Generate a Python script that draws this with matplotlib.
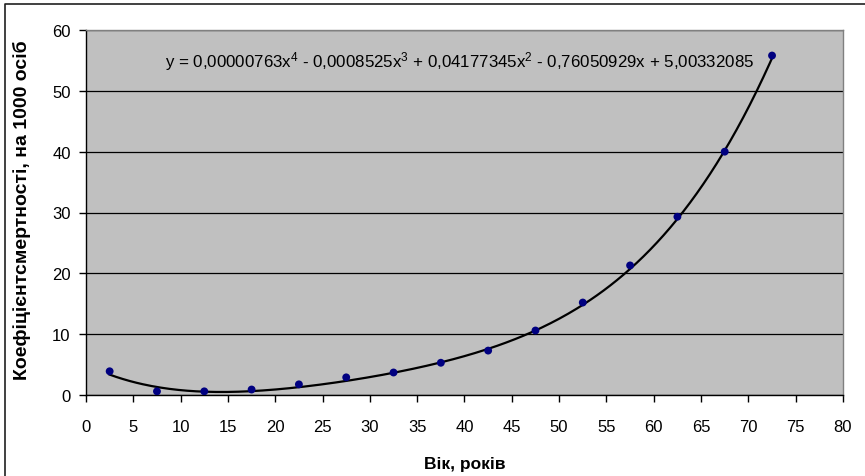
import numpy as np
import matplotlib
matplotlib.use("Agg")
import matplotlib.pyplot as plt
from matplotlib.lines import Line2D

plt.rcParams['font.family'] = ['Liberation Sans', 'DejaVu Sans']
plt.rcParams['mathtext.fontset'] = 'custom'
plt.rcParams['mathtext.rm'] = 'Liberation Sans'
plt.rcParams['mathtext.it'] = 'Liberation Sans'
plt.rcParams['mathtext.default'] = 'regular'

# Data
ages = [2.5, 7.5, 12.5, 17.5, 22.5, 27.5, 32.5, 37.5, 42.5, 47.5, 52.5, 57.5, 62.5, 67.5, 72.5]
rates = [3.9, 0.6, 0.6, 0.9, 1.75, 2.9, 3.7, 5.3, 7.3, 10.6, 15.2, 21.3, 29.3, 40.0, 55.8]
# Trendline coefficients (highest power first), as printed on the chart
coeffs = [0.00000763, -0.0008525, 0.04177345, -0.76050929, 5.00332085]
x_ticks = list(range(0, 85, 5))
y_ticks = list(range(0, 70, 10))
equation = ("y = 0,00000763x$^4$ - 0,0008525x$^3$ + 0,04177345x$^2$ "
            "- 0,76050929x + 5,00332085")
xlabel = "Вік, років"
ylabel = "Коефіцієнтсмертності, на 1000 осіб"

W, H = 865, 477
fig = plt.figure(figsize=(W / 100, H / 100), dpi=100)
fig.patch.set_facecolor('white')
# outer chart frame (only top and left edges visible in the cropped image)
fig.add_artist(Line2D([4.5 / W, 4.5 / W, 1.0], [0.0, 1 - 5 / H, 1 - 5 / H],
                      transform=fig.transFigure, color='#202020', linewidth=1.2))

ax = fig.add_axes([86 / W, 1 - 396 / H, (843 - 86) / W, (396 - 31) / H])
ax.set_facecolor('#C0C0C0')
ax.set_xlim(0, 80)
ax.set_ylim(0, 60)
ax.set_xticks(x_ticks)
ax.set_yticks(y_ticks)
ax.yaxis.grid(True, color='black', linewidth=0.9)
ax.set_axisbelow(True)
for s in ['left', 'bottom']:
    ax.spines[s].set_color('black')
    ax.spines[s].set_linewidth(1.0)
for s in ['top', 'right']:
    ax.spines[s].set_color('#808080')
    ax.spines[s].set_linewidth(1.0)
ax.tick_params(axis='both', direction='out', length=5, width=1, labelsize=12,
               colors='black')
ax.tick_params(axis='x', pad=12)
ax.tick_params(axis='y', pad=6)

xs = np.linspace(ages[0], ages[-1], 300)
ax.plot(xs, np.polyval(coeffs, xs), color='black', linewidth=1.6, zorder=3)
ax.scatter(ages, rates, s=32, color='#000080', zorder=4, edgecolors='none')

ax.text(8.3, 54.9, equation, fontsize=12.2, va='center', ha='left', color='black')

ax.set_xlabel(xlabel, fontsize=12.5, fontweight='bold')
ax.xaxis.set_label_coords(0.5, (396 - 464) / 365)
ax.xaxis.label.set_va('center')
ax.set_ylabel(ylabel, fontsize=14, fontweight='bold')
ax.yaxis.set_label_coords((22 - 86) / 757, 0.51)
ax.yaxis.label.set_va('center')

fig.savefig('out.png', dpi=100, facecolor='white')
